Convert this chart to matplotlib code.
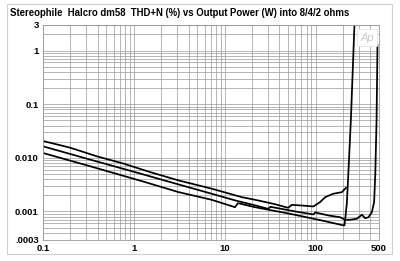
import numpy as np
import matplotlib
matplotlib.use("Agg")
import matplotlib.pyplot as plt
from matplotlib.patches import Rectangle
from matplotlib.ticker import FixedLocator, LogLocator, NullFormatter

plt.rcParams['font.family'] = ['Liberation Sans', 'DejaVu Sans']

# 2 ohms (top at low power, stops near 220 W)
p_2 = [0.1, 0.198, 0.39, 0.77, 1.51, 3.09, 7.2, 15.4, 21.6, 35, 50, 54.8, 75, 94.8, 112, 128, 157, 195, 217]
thd_2 = [0.0206, 0.0155, 0.0107, 0.0078, 0.00543, 0.0038, 0.00266, 0.00185, 0.00165, 0.00138,
         0.00117, 0.00133, 0.00128, 0.00124, 0.00149, 0.00185, 0.00214, 0.00229, 0.00277]

# 4 ohms (middle, clips near 480 W)
p_4 = [0.1, 0.3, 1.0, 3.09, 7.2, 13, 21.6, 30, 32, 60, 95, 100, 104, 140, 187, 212, 240, 285,
       324, 352, 383, 417, 442, 455, 470, 481]
thd_4 = [0.0164, 0.0097, 0.0055, 0.0032, 0.00214, 0.00161, 0.0013, 0.00112, 0.00122, 0.00100,
         0.00088, 0.00097, 0.00094, 0.00084, 0.00078, 0.0007, 0.0007, 0.00073,
         0.00087, 0.00075, 0.00078, 0.00097, 0.0015, 0.005, 0.05, 1.26]

# 8 ohms (bottom, clips near 250 W)
p_8 = [0.1, 0.3, 1.33, 3.09, 7.2, 13, 14, 21.6, 50, 117, 203, 208, 212, 221, 228, 245, 270]
thd_8 = [0.0123, 0.0073, 0.00353, 0.0023, 0.00165, 0.0012, 0.00143, 0.0012, 0.00092, 0.00068,
         0.00055, 0.00055, 0.0007, 0.00139, 0.0038, 0.05, 4.0]

x_ticks = [0.1, 1, 10, 100, 500]
x_labels = ['0.1', '1', '10', '100', '500']
y_ticks = [0.0003, 0.001, 0.01, 0.1, 1, 3]
y_labels = ['.0003', '0.001', '0.010', '0.1', '1', '3']

fig = plt.figure(figsize=(4.0, 2.61), dpi=100)
ax = fig.add_axes([43/400, 1 - 239.5/261, 336/400, 214.5/261])
ax.set_xscale('log')
ax.set_yscale('log')
ax.set_xlim(0.1, 500)
ax.set_ylim(0.0003, 3)

ax.xaxis.set_minor_locator(LogLocator(base=10, subs=np.arange(2, 10)))
ax.yaxis.set_minor_locator(LogLocator(base=10, subs=np.arange(2, 10)))
ax.xaxis.set_minor_formatter(NullFormatter())
ax.yaxis.set_minor_formatter(NullFormatter())
ax.xaxis.set_major_locator(FixedLocator(x_ticks))
ax.yaxis.set_major_locator(FixedLocator(y_ticks))
ax.set_xticklabels(x_labels)
ax.set_yticklabels(y_labels)
ax.grid(True, which='both', color='#999999', linewidth=0.5)
ax.set_axisbelow(True)
ax.tick_params(which='both', length=0, labelsize=6.8, pad=3)
for lab in ax.get_xticklabels() + ax.get_yticklabels():
    lab.set_fontweight('bold')
for s in ax.spines.values():
    s.set_color('#999999')
    s.set_linewidth(0.6)

for p, t in [(p_2, thd_2), (p_4, thd_4), (p_8, thd_8)]:
    ax.plot(p, t, color='black', linewidth=1.25)

ax.text(0.985, 0.965, 'Ap', transform=ax.transAxes, ha='right', va='top',
        fontsize=8, style='italic', color='#c8c8c8',
        bbox=dict(boxstyle='square,pad=0.3', facecolor='white', edgecolor='#e0e0e0', linewidth=0.5))

fig.text(10/400, 1 - 13/261, 'Stereophile  Halcro dm58  THD+N (%) vs Output Power (W) into 8/4/2 ohms',
         fontsize=6.9, fontweight='bold', va='center', ha='left')

fig.patches.append(Rectangle((7/400, 1 - 254/261), 385/400, 250/261, transform=fig.transFigure,
                             fill=False, edgecolor='#d0d0d0', linewidth=0.8))

fig.savefig('out.png', dpi=100)
